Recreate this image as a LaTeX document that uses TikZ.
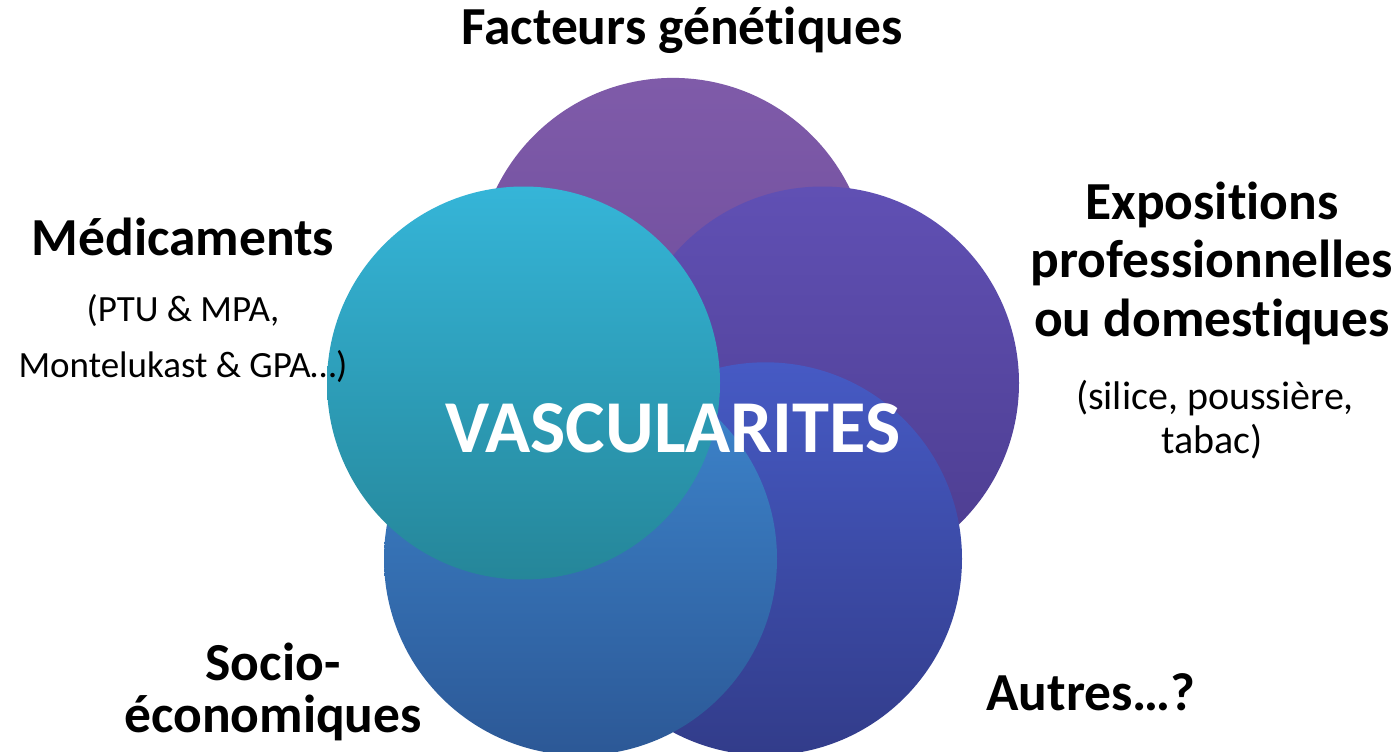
\documentclass[tikz,border=0pt]{standalone}
\usepackage{fontspec}
\setmainfont{Carlito}[Ligatures={NoCommon}]
\begin{document}
\begin{tikzpicture}[x=1pt,y=-1pt,
  petal/.style={circle,draw=none,inner sep=0pt,minimum size=393pt},
  headlbl/.style={font=\fontsize{53.5}{60}\selectfont\bfseries,align=center,inner sep=0pt},
  sublbl/.style={font=\fontsize{40}{56}\selectfont,align=center,inner sep=0pt},
  sublblL/.style={font=\fontsize{37}{56}\selectfont,align=center,inner sep=0pt}]
\useasboundingbox[fill=white] (0,0) rectangle (1398,752);
% petals
\node[petal,top color={rgb,255:red,127;green,91;blue,169},bottom color={rgb,255:red,104;green,72;blue,152}] (gen) at (673,274.4) {};
\node[petal,top color={rgb,255:red,96;green,80;blue,180},bottom color={rgb,255:red,76;green,60;blue,142}] (expo) at (822.5,383) {};
\node[petal,top color={rgb,255:red,70;green,90;blue,196},bottom color={rgb,255:red,50;green,60;blue,138}] (autre) at (765.5,558.8) {};
\node[petal,top color={rgb,255:red,62;green,136;blue,208},bottom color={rgb,255:red,44;green,88;blue,150}] (socio) at (580.5,558.8) {};
\node[petal,top color={rgb,255:red,53;green,181;blue,216},bottom color={rgb,255:red,37;green,134;blue,153}] (medic) at (523.5,383) {};
% centre
\node[font=\fontsize{74.6}{90}\selectfont\bfseries,text=white,inner sep=0pt] (vasc) at (673,428) {VASCULARITES};
% labels
\node[headlbl] (lgen) at (682,30) {Facteurs génétiques};
\node[headlbl] (lmed) at (183,237) {Médicaments};
\node[sublblL] (lmed1) at (183,311) {(PTU \& MPA,};
\node[sublblL] (lmed2) at (183,367) {Montelukast \& GPA…)};
\node[headlbl] (lexp1) at (1212,205) {Expositions};
\node[headlbl] (lexp2) at (1212,263) {professionnelles};
\node[headlbl] (lexp3) at (1212,322) {ou domestiques};
\node[sublbl] (lexp4) at (1215,398) {(silice, poussière,};
\node[sublbl] (lexp5) at (1212,442) {tabac)};
\node[headlbl] (lsoc1) at (273,662) {Socio-};
\node[headlbl] (lsoc2) at (273,718) {économiques};
\node[headlbl] (laut) at (1091,692) {Autres…?};
\end{tikzpicture}
\end{document}
